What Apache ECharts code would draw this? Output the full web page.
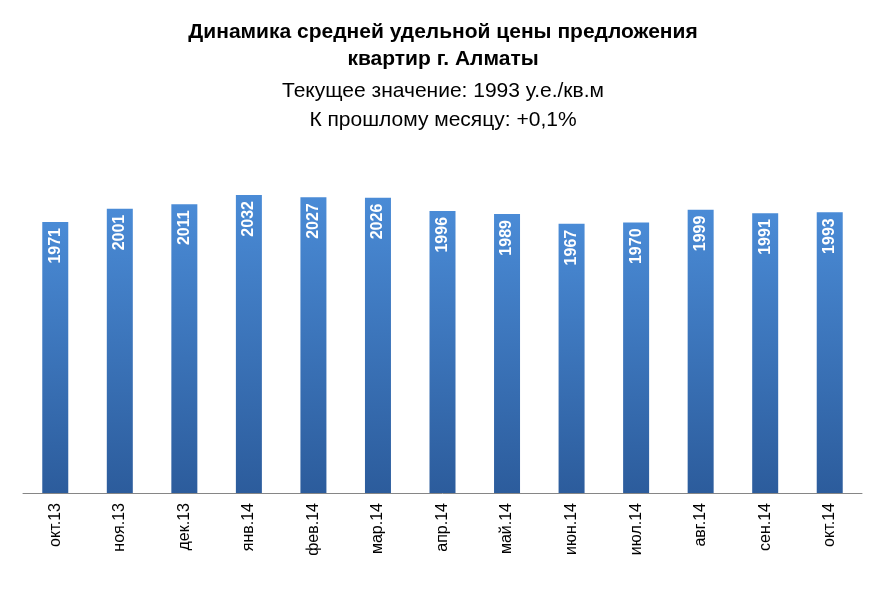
<!DOCTYPE html>
<html><head><meta charset="utf-8">
<script src="https://cdn.jsdelivr.net/npm/echarts@6/dist/echarts.min.js"></script>
<style>html,body{margin:0;background:#fff}#c{width:886px;height:591px}</style>
</head><body><div id="c"></div>
<script>
const months = ["окт.13","ноя.13","дек.13","янв.14","фев.14","мар.14","апр.14","май.14","июн.14","июл.14","авг.14","сен.14","окт.14"];
const prices = [1971,2001,2011,2032,2027,2026,1996,1989,1967,1970,1999,1991,1993];

const chart = echarts.init(document.getElementById("c"));
chart.setOption({
  animation: false,
  title: {
    left: "center", top: 14,
    text: "Динамика средней удельной цены предложения\nквартир г. Алматы",
    subtext: "Текущее значение: 1993 у.е./кв.м\nК прошлому месяцу: +0,1%",
    itemGap: 4,
    textStyle: {fontFamily: "Liberation Sans", fontSize: 21, fontWeight: "bold", color: "#000", lineHeight: 27},
    subtextStyle: {fontFamily: "Liberation Sans", fontSize: 21, color: "#000", lineHeight: 29}
  },
  grid: {left: 23, right: 24, top: 165, bottom: 98},
  xAxis: {
    type: "category", data: months,
    axisTick: {show: false},
    axisLine: {lineStyle: {color: "#868686"}},
    axisLabel: {rotate: 90, color: "#000", fontSize: 16, fontFamily: "Liberation Sans", margin: 10}
  },
  yAxis: {type: "value", min: 1358, max: 2100, show: false, splitLine: {show: false}},
  series: [{
    type: "bar", data: prices, barWidth: 26,
    itemStyle: {color: new echarts.graphic.LinearGradient(0, 0, 0, 1, [
      {offset: 0, color: "#4a8bd6"}, {offset: 1, color: "#2c5c9c"}])},
    label: {show: true, position: "insideTop", rotate: 90, align: "right", verticalAlign: "middle",
      distance: 6, color: "#fff", fontWeight: "bold", fontSize: 16, fontFamily: "Liberation Sans"}
  }]
});
</script></body></html>
